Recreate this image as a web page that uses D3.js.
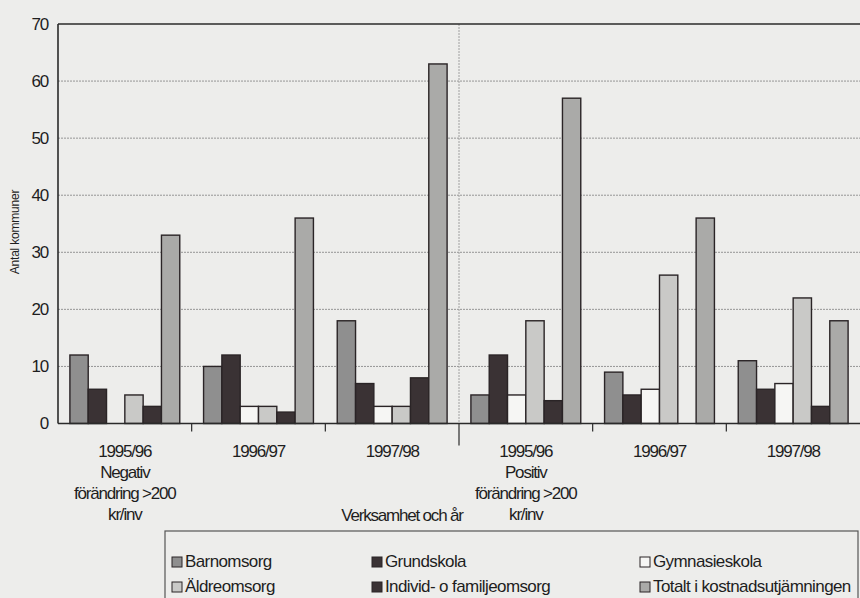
<!DOCTYPE html>
<html><head><meta charset="utf-8">
<script src="https://cdn.jsdelivr.net/npm/d3@7"></script>
<style>
html,body{margin:0;padding:0;background:#ededeb;}
svg{display:block;}
text{font-family:"Liberation Sans",Arial,sans-serif;fill:#1e1e1e;}
</style></head><body>
<svg id="c" width="860" height="598"></svg>
<script>
const groups = ["g1","g2","g3","g4","g5","g6"];
const yearLabels = ["1995/96","1996/97","1997/98","1995/96","1996/97","1997/98"];
const seriesNames = ["Barnomsorg","Grundskola","Gymnasieskola","Äldreomsorg","Individ- o familjeomsorg","Totalt i kostnadsutjämningen"];
const barnomsorg   = [12, 10, 18, 5, 9, 11];
const grundskola   = [6, 12, 7, 12, 5, 6];
const gymnasieskola= [0, 3, 3, 5, 6, 7];
const aldreomsorg  = [5, 3, 3, 18, 26, 22];
const individ      = [3, 2, 8, 4, 0, 3];
const totalt       = [33, 36, 63, 57, 36, 18];
const yTicks = [0,10,20,30,40,50,60,70];
const seriesValues = [barnomsorg, grundskola, gymnasieskola, aldreomsorg, individ, totalt];
const fills = ["#8f8f8f","#3a3234","#f6f6f4","#c9c9c7","#3a3234","#aaaaa8"];

const svg = d3.select("#c");
const L = 58, R = 860, T = 24, B = 423.5;
const x0 = d3.scaleBand().domain(groups).range([L, R]).paddingInner(0).paddingOuter(0);
const x1 = d3.scaleBand().domain(seriesNames).range([0, x0.bandwidth()]).paddingInner(0).paddingOuter(0.65);
const y = d3.scaleLinear().domain([0, 70]).range([B, T]);

// gridlines
svg.append("g").selectAll("line").data(yTicks.filter(d => d > 0 && d < 70)).join("line")
  .attr("x1", L).attr("x2", R).attr("y1", d => y(d)).attr("y2", d => y(d))
  .attr("stroke", "#959595").attr("stroke-width", 1).attr("stroke-dasharray", "2,1");

// vertical separator between Negativ and Positiv
svg.append("line").attr("x1", x0("g4")).attr("x2", x0("g4")).attr("y1", y(70)).attr("y2", B)
  .attr("stroke", "#a0a0a0").attr("stroke-width", 1).attr("stroke-dasharray", "2,1");

// bars
const data = [];
groups.forEach((g, gi) => seriesNames.forEach((s, si) => data.push({g, s, si, v: seriesValues[si][gi]})));
svg.append("g").selectAll("rect").data(data.filter(d => d.v > 0)).join("rect")
  .attr("x", d => x0(d.g) + x1(d.s))
  .attr("y", d => y(d.v))
  .attr("width", x1.bandwidth())
  .attr("height", d => B - y(d.v))
  .attr("fill", d => fills[d.si])
  .attr("stroke", "#2a2426").attr("stroke-width", 1.4);

// frame: top line, left axis, baseline
svg.append("line").attr("x1", L).attr("x2", R).attr("y1", y(70)).attr("y2", y(70)).attr("stroke", "#2a2a2a").attr("stroke-width", 1.6);
svg.append("line").attr("x1", L).attr("x2", L).attr("y1", y(70)).attr("y2", B).attr("stroke", "#2a2a2a").attr("stroke-width", 1.6);
svg.append("line").attr("x1", L).attr("x2", R).attr("y1", B).attr("y2", B).attr("stroke", "#2a2a2a").attr("stroke-width", 1.6);

// group boundary ticks
svg.append("g").selectAll("line").data(groups.slice(1)).join("line")
  .attr("x1", d => x0(d)).attr("x2", d => x0(d))
  .attr("y1", B).attr("y2", d => d === "g4" ? B + 22 : B + 8)
  .attr("stroke", "#2a2a2a").attr("stroke-width", 1.2);

// y axis labels
const yAxis = d3.axisLeft(y).tickValues(yTicks).tickSize(0).tickPadding(10);
const ya = svg.append("g").attr("transform", `translate(${L},0)`).call(yAxis);
ya.select(".domain").remove();
ya.selectAll("text").attr("font-size", 17).attr("letter-spacing", "-1.2px")
  .style("font-family", '"Liberation Sans",Arial,sans-serif').attr("fill", "#1e1e1e");

// y title
svg.append("text").attr("transform", "translate(19,232) rotate(-90)").attr("text-anchor", "middle")
  .attr("font-size", 12).attr("letter-spacing", "-0.2px").text("Antal kommuner");

// x labels
const lbl = svg.append("g").attr("font-size", 17).attr("letter-spacing", "-1.2px").attr("text-anchor", "middle");
groups.forEach((g, i) => {
  const cx = x0(g) + x0.bandwidth() / 2;
  lbl.append("text").attr("x", cx).attr("y", 457).text(yearLabels[i]);
});
[["g1", "Negativ"], ["g4", "Positiv"]].forEach(([g, t]) => {
  const cx = x0(g) + x0.bandwidth() / 2;
  lbl.append("text").attr("x", cx).attr("y", 478).text(t);
  lbl.append("text").attr("x", cx).attr("y", 499).text("förändring >200");
  lbl.append("text").attr("x", cx).attr("y", 520).text("kr/inv");
});
svg.append("text").attr("x", 402).attr("y", 521).attr("text-anchor", "middle")
  .attr("font-size", 17).attr("letter-spacing", "-1.2px").text("Verksamhet och år");

// legend
const lg = svg.append("g");
lg.append("rect").attr("x", 165).attr("y", 531).attr("width", 693).attr("height", 80)
  .attr("fill", "none").attr("stroke", "#555").attr("stroke-width", 1.2);
const colX = [172, 372, 640];
seriesNames.forEach((s, i) => {
  const cx = colX[i % 3], cy = i < 3 ? 567 : 592;
  lg.append("rect").attr("x", cx).attr("y", cy - 10).attr("width", 10).attr("height", 10)
    .attr("fill", fills[i]).attr("stroke", "#2a2426").attr("stroke-width", 1);
  lg.append("text").attr("x", cx + 13).attr("y", cy).attr("font-size", 17).attr("letter-spacing", "-0.6px").text(s);
});
</script></body></html>
